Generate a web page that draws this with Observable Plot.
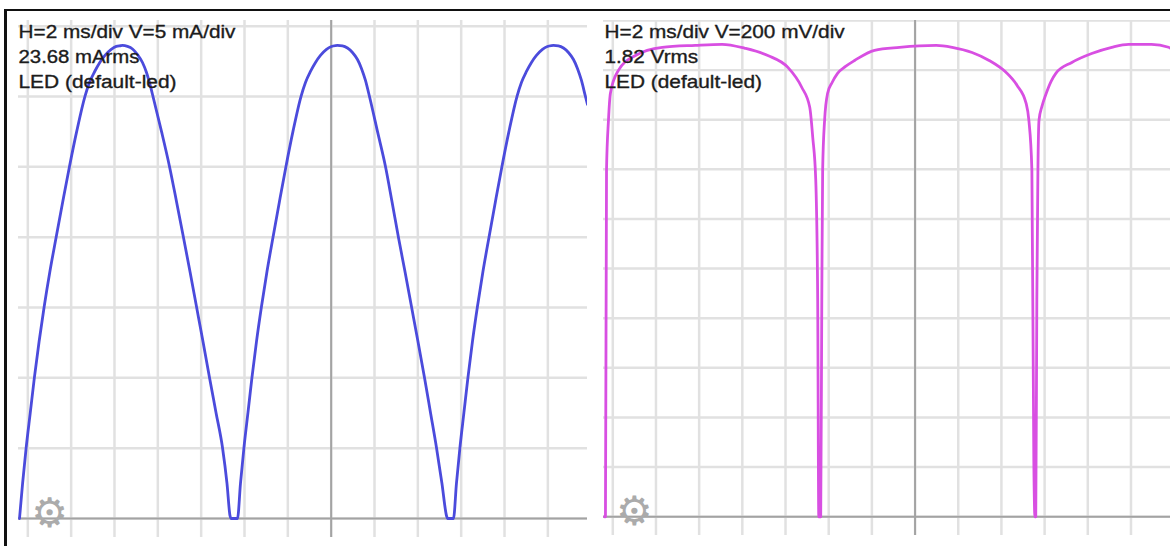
<!DOCTYPE html>
<html><head><meta charset="utf-8">
<script src="https://cdn.jsdelivr.net/npm/d3@7"></script>
<script src="https://cdn.jsdelivr.net/npm/@observablehq/plot@0.6"></script>
<style>
html,body{margin:0;padding:0;background:#fff;width:1170px;height:546px;overflow:hidden;}
#wrap{position:relative;width:1170px;height:546px;overflow:hidden;}
#frameTop{position:absolute;left:4px;top:9px;width:1166px;height:2px;background:#111;}
#frameLeft{position:absolute;left:4px;top:9px;width:3px;height:537px;background:#111;}
.panel{position:absolute;top:20px;}
</style></head><body>
<div id="wrap"><div id="frameTop"></div><div id="frameLeft"></div>
<div id="left" class="panel" style="left:18px"></div>
<div id="right" class="panel" style="left:603px"></div></div>
<script>
// ---- data ----
const gridTimes = [6, 8, 10, 12, 14, 16, 18, 20, 22, 24, 26, 28, 30, 32];
const majorTimes = [20];
const currentGrid = [0, 5, 10, 15, 20, 25, 30, 35];
const voltageGrid = [0, 0.2, 0.4, 0.6, 0.8, 1.0, 1.2, 1.4, 1.6, 1.8, 2.0];

// current through LED (ms, mA)
const currentT = [
  5.616, 5.759, 5.925, 6.115, 6.304, 6.521, 6.756, 7.019, 7.305, 7.614, 7.923, 8.256, 8.634, 8.846, 9.086, 9.322, 9.562, 9.848, 10.083, 10.272, 10.369,
  10.600, 10.831, 11.061, 11.292, 11.477, 11.661, 11.800, 12.169, 12.538, 12.861, 13.184, 13.484, 13.784, 14.084, 14.384, 14.684, 14.984, 15.192, 15.330, 15.376, 15.630,
  15.676, 15.815, 15.976, 16.161, 16.345, 16.553, 16.784, 17.038, 17.314, 17.614, 17.914, 18.237, 18.607, 18.814, 19.045, 19.276, 19.506, 19.783, 20.014, 20.199, 20.291,
  20.522, 20.752, 20.983, 21.214, 21.398, 21.583, 21.768, 22.137, 22.506, 22.806, 23.106, 23.406, 23.706, 24.006, 24.306, 24.583, 24.859, 25.113, 25.321, 25.367,
  25.644, 25.782, 25.944, 26.128, 26.313, 26.520, 26.751, 27.005, 27.282, 27.582, 27.882, 28.205, 28.574, 28.781, 29.013, 29.243, 29.474, 29.751, 29.982, 30.166, 30.259,
  30.489, 30.720, 30.951, 31.182, 31.366, 31.551, 31.735, 31.828];
const currentMA = [
  0, 2.49, 5.05, 7.54, 10.03, 12.58, 15.07, 17.56, 19.98, 22.54, 25.03, 27.52, 30.00, 31.00, 31.78, 32.42, 32.92, 33.35, 33.56, 33.61, 33.63,
  33.56, 33.38, 32.99, 32.42, 31.71, 30.72, 29.86, 27.52, 25.03, 22.54, 19.98, 17.56, 15.07, 12.58, 10.03, 7.54, 5.05, 2.49, 0.21, 0, 0,
  0, 2.49, 5.05, 7.54, 10.03, 12.58, 15.07, 17.56, 19.98, 22.54, 25.03, 27.52, 30.00, 31.00, 31.78, 32.42, 32.92, 33.35, 33.56, 33.62, 33.63,
  33.60, 33.45, 33.13, 32.63, 32.00, 31.14, 30.00, 27.52, 25.03, 22.54, 19.98, 17.56, 15.07, 12.58, 10.03, 7.54, 5.05, 2.49, 0.21, 0,
  0, 2.49, 5.05, 7.54, 10.03, 12.58, 15.07, 17.56, 19.98, 22.54, 25.03, 27.52, 30.00, 31.00, 31.78, 32.42, 32.92, 33.35, 33.56, 33.62, 33.63,
  33.60, 33.45, 33.13, 32.63, 32.00, 31.14, 30.00, 29.44];

// voltage across LED (ms, V)
const voltageT = [5.62, 5.66, 5.71, 5.80, 5.89, 6.26, 7.05, 8.29, 9.82, 11.06, 12.12, 13.18, 14.11, 14.75, 15.12, 15.26, 15.40, 15.49, 15.54, 15.63, 15.68, 15.72, 15.81, 15.95, 16.14, 16.41, 16.78, 17.20, 18.12, 19.28, 20.98, 21.72, 22.64, 23.43, 24.21, 24.72, 25.14, 25.27, 25.41, 25.50, 25.55, 25.59, 25.64, 25.69, 25.74, 25.88, 26.06, 26.30, 26.52, 27.26, 28.18, 29.11, 29.89, 30.95, 31.74, 31.83];
const voltageV = [0, 0, 1.398, 1.598, 1.707, 1.799, 1.859, 1.892, 1.900, 1.904, 1.888, 1.859, 1.811, 1.731, 1.651, 1.530, 1.357, 0.875, 0, 0, 0.875, 1.398, 1.598, 1.707, 1.747, 1.787, 1.815, 1.839, 1.880, 1.892, 1.900, 1.892, 1.871, 1.839, 1.791, 1.739, 1.667, 1.598, 1.398, 0.225, 0, 0, 0.875, 1.398, 1.598, 1.655, 1.703, 1.755, 1.787, 1.831, 1.867, 1.892, 1.904, 1.904, 1.892, 1.888];

const leftLabels  = ["H=2 ms/div V=5 mA/div", "23.68 mArms", "LED (default-led)"];
const rightLabels = ["H=2 ms/div V=200 mV/div", "1.82 Vrms", "LED (default-led)"];
const gearIcon = ["⚙"];

// ---- layout / style ----
const W = 569, H = 517;
const xDomain = [5.57, 31.83];
const labelWidths = {
  "H=2 ms/div V=5 mA/div": 217, "23.68 mArms": 121, "LED (default-led)": 158,
  "H=2 ms/div V=200 mV/div": 241, "1.82 Vrms": 94
};

function panel({t, v, grid, yDomain, color, labels, labelDx, curve}) {
  const rows = t.map((d, i) => ({t: d, v: v[i]}));
  const marks = [
    Plot.ruleX(gridTimes, {stroke: "#e1e1e1", strokeWidth: 2.5}),
    Plot.ruleY(grid, {stroke: "#e1e1e1", strokeWidth: 2.5}),
    Plot.ruleX(majorTimes, {stroke: "#a3a3a3", strokeWidth: 2}),
    Plot.ruleY([0], {stroke: "#a3a3a3", strokeWidth: 2}),
    Plot.line(rows, {x: "t", y: "v", stroke: color, strokeWidth: 2.8, curve, strokeLinejoin: "round"}),
    Plot.text(gearIcon, {text: d => d, frameAnchor: "bottom-left", dx: 31, dy: -24, fontSize: 41, fill: "#ababab", textAnchor: "middle", lineAnchor: "middle", fontFamily: "DejaVu Sans"})
  ];
  labels.forEach((s, i) => {
    marks.push(Plot.text([s], {text: d => d, frameAnchor: "top-left", dx: labelDx, dy: 5 + i * 25, fontSize: 18, fill: "#1c1c1c", stroke: "#1c1c1c", strokeWidth: 0.35, textAnchor: "start", lineAnchor: "top", fontFamily: "Liberation Sans, Arial, sans-serif"}));
  });
  const svg = Plot.plot({
    width: W, height: H, margin: 0,
    style: {background: "white", overflow: "hidden"},
    x: {domain: xDomain, axis: null},
    y: {domain: yDomain, axis: null},
    marks
  });
  d3.select(svg).selectAll("text").each(function() {
    const s = this.textContent;
    if (labelWidths[s]) {
      this.setAttribute("textLength", labelWidths[s]);
      this.setAttribute("lengthAdjust", "spacingAndGlyphs");
    }
  });
  return svg;
}

document.getElementById("left").appendChild(panel({
  t: currentT, v: currentMA, grid: currentGrid,
  yDomain: [-19 / 70.33 * 5, 498 / 70.33 * 5],
  color: "#4b4bdc", labels: leftLabels, labelDx: 0, curve: "monotone-x"
}));
document.getElementById("right").appendChild(panel({
  t: voltageT, v: voltageV, grid: voltageGrid,
  yDomain: [-19 / 49.8 * 0.2, 498 / 49.8 * 0.2],
  color: "#d84fe2", labels: rightLabels, labelDx: 1, curve: "monotone-x"
}));
</script></body></html>
